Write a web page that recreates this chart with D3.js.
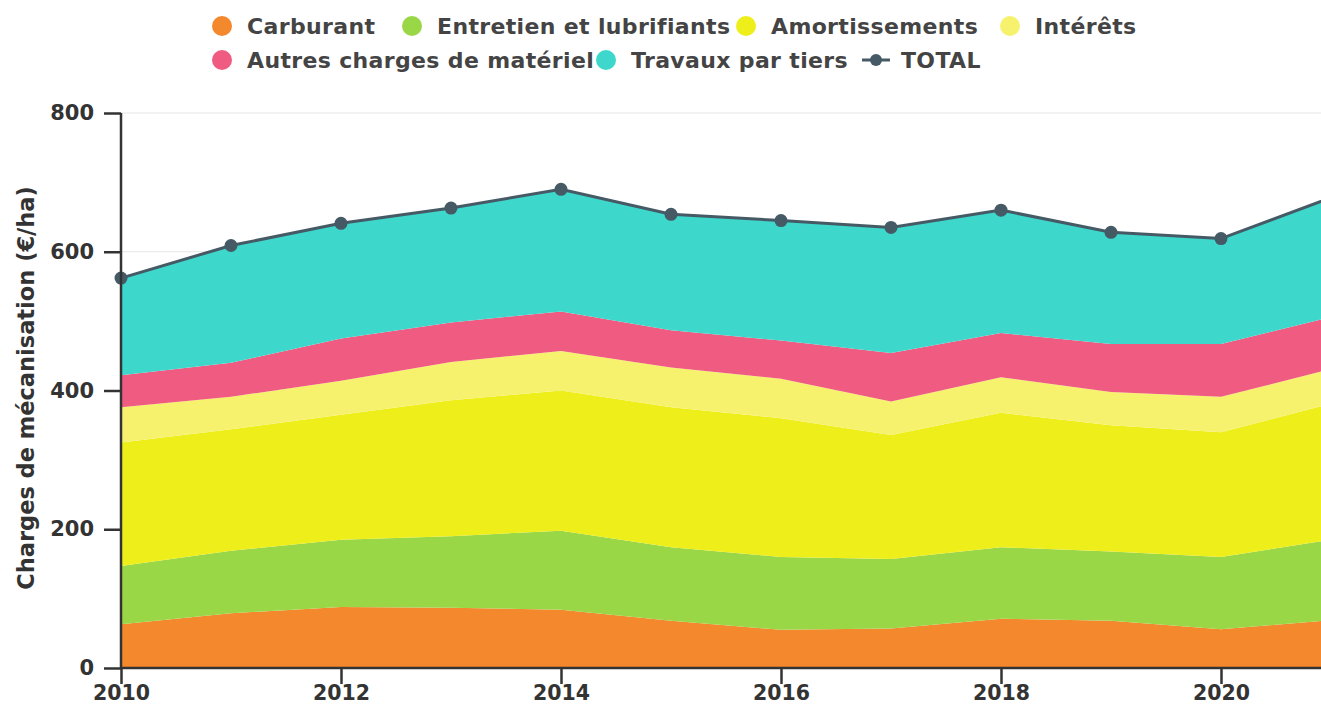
<!DOCTYPE html>
<html>
<head>
<meta charset="utf-8">
<script src="https://cdn.jsdelivr.net/npm/d3@7"></script>
<style>
  body { margin: 0; background: #fff; }
  svg { display: block; font-family: "DejaVu Sans", sans-serif; }
</style>
</head>
<body>
<div id="chart"></div>
<script>
// data (€/ha)
const years = [2010, 2011, 2012, 2013, 2014, 2015, 2016, 2017, 2018, 2019, 2020, 2021];
const carburant = [63, 79, 88, 87, 84, 68, 55, 57, 71, 68, 56, 69];
const entretien = [84, 90, 97, 103, 114, 106, 105, 100, 103, 100, 104, 116];
const amortissements = [178, 175, 180, 196, 202, 202, 200, 179, 194, 182, 180, 196];
const interets = [51, 47, 49, 55, 57, 57, 57, 48, 51, 48, 51, 50];
const autres = [46, 49, 61, 57, 57, 54, 55, 70, 64, 69, 76, 75];
const travaux = [140, 169, 166, 165, 176, 167, 173, 181, 177, 161, 152, 172];
const total = [562, 609, 641, 663, 690, 654, 645, 635, 660, 628, 619, 678];
const yTicks = [0, 200, 400, 600, 800];
const xTicks = [2010, 2012, 2014, 2016, 2018, 2020];

const seriesNames = ['Carburant', 'Entretien et lubrifiants', 'Amortissements', 'Intérêts',
  'Autres charges de matériel', 'Travaux par tiers'];
const seriesValues = [carburant, entretien, amortissements, interets, autres, travaux];
const colors = ['#f3882d', '#9ad747', '#eeee1a', '#f7f26e', '#f05b82', '#3dd8cb'];
const lineColor = '#465a66';

let w = 1321;
let h = 705;
let padLeft = 121;
let padTop = 113;
let padBottom = 668;

let svg = d3.select('#chart').
append('svg').
attr('width', w).
attr('height', h);

let rows = years.map((y, i) => {
  let r = { year: y };
  seriesNames.forEach((n, k) => r[n] = seriesValues[k][i]);
  return r;
});

let xScale = d3.scaleLinear().
domain([2010, 2021]).
range([padLeft, padLeft + 110 * 11]);

let yScale = d3.scaleLinear().
domain([0, 800]).
range([padBottom, padTop]);

// grid
svg.append('g').
selectAll('line').
data(yTicks).
enter().
append('line').
attr('x1', padLeft).
attr('x2', w).
attr('y1', d => yScale(d)).
attr('y2', d => yScale(d)).
attr('stroke', '#e6e6e6').
attr('stroke-width', 1);

let stack = d3.stack().keys(seriesNames);
let layers = stack(rows);

let area = d3.area().
x(d => xScale(d.data.year)).
y0(d => yScale(d[0])).
y1(d => yScale(d[1]));

svg.append('g').
selectAll('path').
data(layers).
enter().
append('path').
attr('d', area).
attr('fill', (d, i) => colors[i]);

// total line
let line = d3.line().
x((d, i) => xScale(years[i])).
y(d => yScale(d));

svg.append('path').
datum(total).
attr('d', line).
attr('fill', 'none').
attr('stroke', lineColor).
attr('stroke-width', 3);

svg.append('g').
selectAll('circle').
data(total).
enter().
append('circle').
attr('cx', (d, i) => xScale(years[i])).
attr('cy', d => yScale(d)).
attr('r', 6.5).
attr('fill', lineColor);

// axes
let yAxis = d3.axisLeft(yScale).tickValues(yTicks).tickSize(17).tickPadding(10);
let xAxis = d3.axisBottom(xScale).tickValues(xTicks).tickFormat(d3.format('d')).tickSize(16).tickPadding(1);

let gy = svg.append('g').
attr('transform', 'translate(' + padLeft + ',0)').
call(yAxis);

let gx = svg.append('g').
attr('transform', 'translate(0,' + padBottom + ')').
call(xAxis);

[gx, gy].forEach(g => {
  g.select('.domain').attr('stroke', '#333').attr('stroke-width', 2.5);
  g.selectAll('.tick line').attr('stroke', '#333').attr('stroke-width', 2.5);
  g.selectAll('.tick text').
  attr('fill', '#333').
  style('font-size', '21px').
  style('font-weight', 'bold').
  style('font-family', '"DejaVu Sans", sans-serif');
});
gx.selectAll('.tick text').style('font-size', '20.5px');
gy.select('.domain').attr('d', 'M0,' + padTop + 'V' + padBottom);
gx.select('.domain').attr('d', 'M' + padLeft + ',0H' + w);

svg.append('text').
text('Charges de mécanisation (€/ha)').
attr('transform', 'translate(34,388) rotate(-90)').
attr('text-anchor', 'middle').
attr('fill', '#333').
style('font-size', '22.5px').
style('font-weight', 'bold');

// legend
let legendPos = [
  [222, 26], [412, 26], [746, 26], [1010, 26],
  [222, 60], [606, 60]
];
let legend = svg.append('g').
style('font-size', '22px').
style('font-weight', 'bold').
style('letter-spacing', '0.35px');

seriesNames.forEach((n, i) => {
  let p = legendPos[i];
  legend.append('circle').
  attr('cx', p[0]).
  attr('cy', p[1]).
  attr('r', 10).
  attr('fill', colors[i]);
  legend.append('text').
  attr('x', p[0] + 25).
  attr('y', p[1] + 8).
  attr('fill', '#444').
  text(n);
});

legend.append('line').
attr('x1', 862).
attr('x2', 890).
attr('y1', 60).
attr('y2', 60).
attr('stroke', lineColor).
attr('stroke-width', 3);
legend.append('circle').
attr('cx', 876).
attr('cy', 60).
attr('r', 6).
attr('fill', lineColor);
legend.append('text').
attr('x', 901).
attr('y', 68).
attr('fill', '#444').
text('TOTAL');
</script>
</body>
</html>
